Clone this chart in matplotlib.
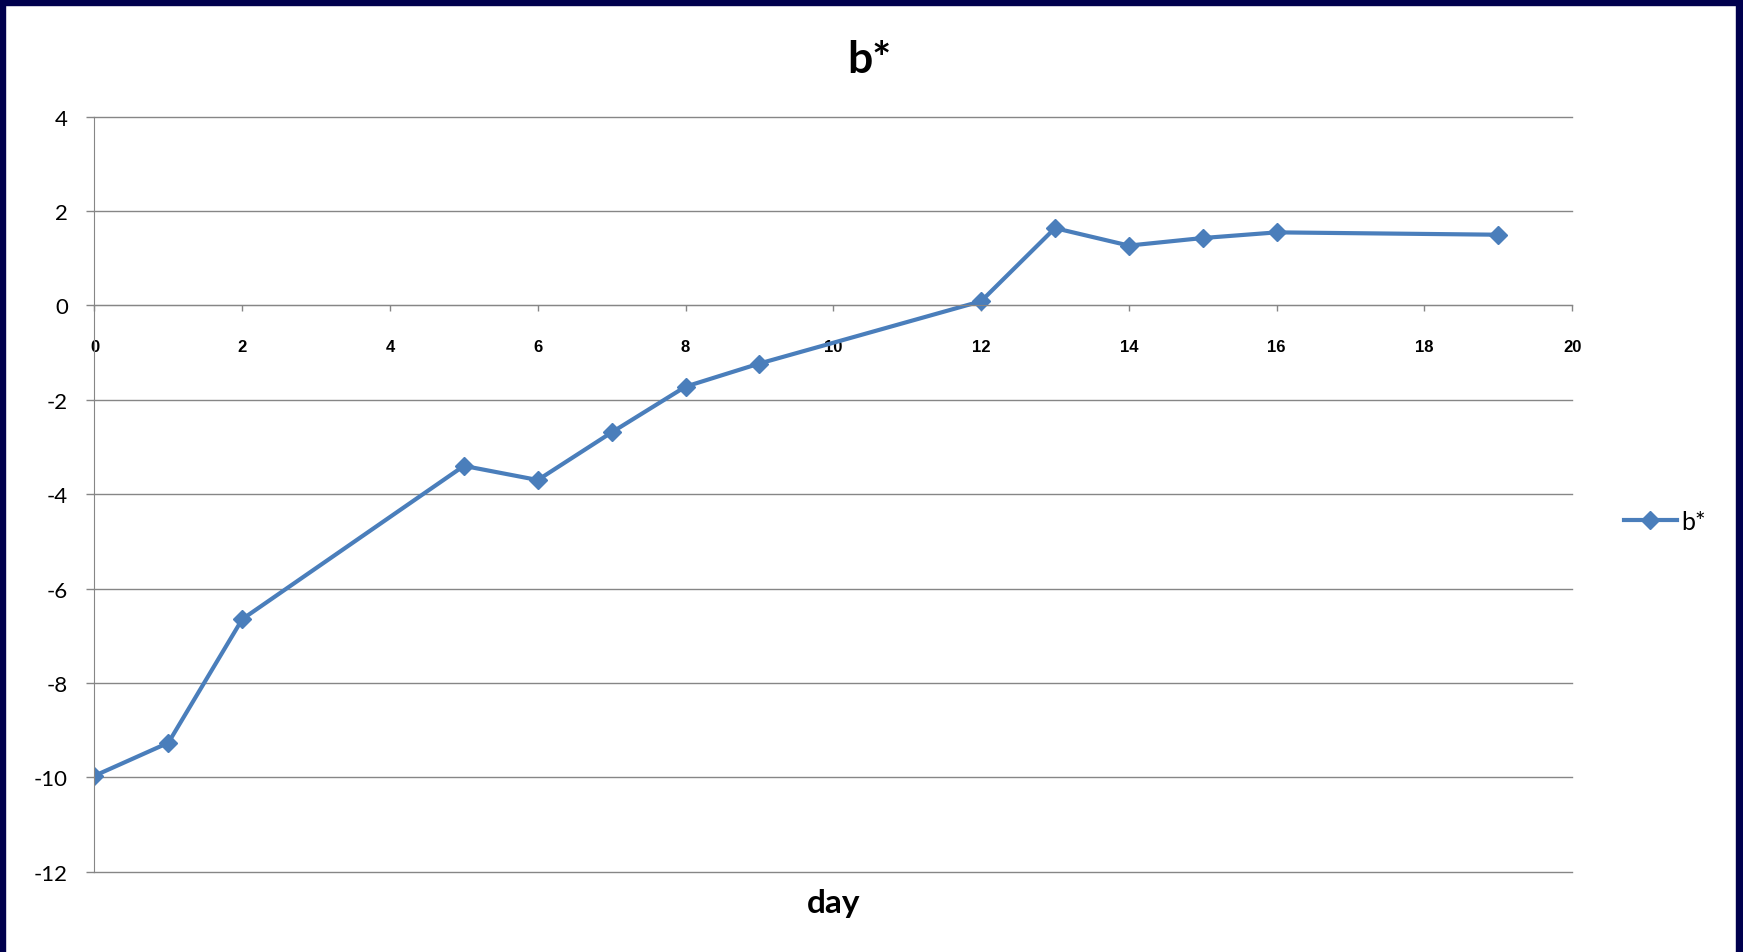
import matplotlib.pyplot as plt
from matplotlib.patches import Rectangle

# data
day = [0, 1, 2, 5, 6, 7, 8, 9, 12, 13, 14, 15, 16, 19]
b_star = [-9.97, -9.27, -6.65, -3.40, -3.70, -2.69, -1.72, -1.23, 0.09, 1.64, 1.27, 1.43, 1.55, 1.50]
x_ticks = list(range(0, 21, 2))
y_ticks = list(range(-12, 5, 2))

line_col = '#4A7EBB'
grid_col = '#868686'
navy = '#00004E'

plt.rcParams['axes.unicode_minus'] = False

fig = plt.figure(figsize=(17.43, 9.53), dpi=100)
ax = fig.add_axes([0.0542, 0.0844, 0.902 - 0.0542, 0.8764 - 0.0844])

ax.plot(day, b_star, color=line_col, linewidth=3.0, marker='D', markersize=9.5,
        label='b*')

ax.set_xlim(0, 20)
ax.set_ylim(-12, 4)
ax.set_xticks(x_ticks)
ax.set_yticks(y_ticks)
ax.grid(axis='y', color=grid_col, linewidth=1.0)
for g in ax.get_ygridlines():
    g.set_clip_on(False)
ax.set_axisbelow(True)

for s in ['top', 'right']:
    ax.spines[s].set_visible(False)
ax.spines['bottom'].set_position(('data', 0))
ax.spines['bottom'].set_color(grid_col)
ax.spines['left'].set_color(grid_col)

ax.tick_params(axis='y', colors=grid_col, length=6, width=1, pad=13, labelcolor='black')
ax.tick_params(axis='x', colors=grid_col, length=4, width=1, pad=20, labelcolor='black')
for t in ax.get_yticklabels():
    t.set_fontfamily(['Lato', 'DejaVu Sans'])
    t.set_fontsize(16)
for t in ax.get_xticklabels():
    t.set_fontfamily(['Liberation Sans Narrow', 'Liberation Sans'])
    t.set_fontsize(12)
    t.set_fontweight('bold')

fig.text(0.4987, 0.937, 'b*', ha='center', va='center', fontsize=32,
         fontweight='bold', family=['Lato', 'DejaVu Sans'])
fig.text(0.478, 0.052, 'day', ha='center', va='center', fontsize=24,
         fontweight='bold', family=['Lato', 'DejaVu Sans'])

leg = ax.legend(loc='center left', bbox_to_anchor=(1.02, 0.464), frameon=False,
                prop={'family': 'Lato', 'size': 18}, handlelength=2.1, handletextpad=0.2)

# dark slide frame
fig.add_artist(Rectangle((0, 1 - 6 / 953), 1, 6 / 953, transform=fig.transFigure,
                         color=navy, zorder=10))
fig.add_artist(Rectangle((0, 0), 5 / 1743, 1, transform=fig.transFigure,
                         color=navy, zorder=10))
fig.add_artist(Rectangle((1736 / 1743, 0), 7 / 1743, 1, transform=fig.transFigure,
                         color=navy, zorder=10))

fig.savefig('out.png', dpi=100)
